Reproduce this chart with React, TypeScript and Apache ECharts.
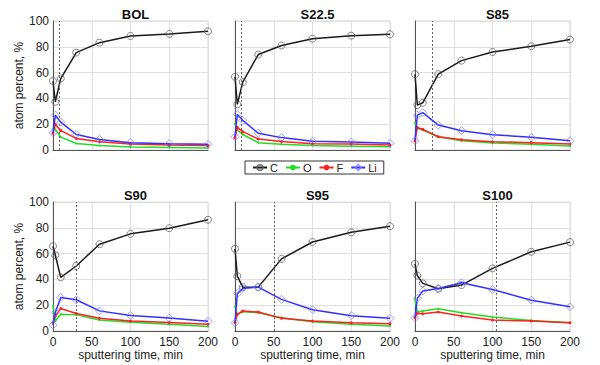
import React, { useEffect, useRef } from "react";
import * as echarts from "echarts";

const times = [0, 3, 10, 30, 60, 100, 150, 200];
const panelTitles = ["BOL", "S22.5", "S85", "S90", "S95", "S100"];
const dottedAt = [8, 8, 22.5, 30.5, 51, 105];

const cValues = [
  [53.4, 37.4, 55.4, 75.5, 83.2, 88.4, 90, 92],
  [56.8, 35.4, 52.7, 74, 81, 86.3, 88.6, 89.7],
  [58.8, 34.8, 36.6, 58.8, 69.3, 76, 80.4, 85.6],
  [65.7, 58.7, 41.6, 50.4, 67.3, 75.3, 79.7, 86.2],
  [63.7, 42.5, 34, 34, 55.9, 69, 76.5, 81.2],
  [52, 43, 36.9, 32.7, 35.6, 48.5, 61.4, 68.9],
];
const oValues = [
  [16.5, 16, 10, 5, 3.4, 2.3, 2, 1.5],
  [20.5, 15.5, 12, 5.7, 4.4, 3.4, 3, 2.6],
  [21, 16.8, 15.5, 10.3, 7.2, 5.4, 4.4, 3.1],
  [19.5, 7.8, 13, 12.5, 8.6, 6.8, 5.2, 3.4],
  [19.3, 12.9, 15, 14.2, 10.3, 7.2, 5.2, 3.9],
  [24.5, 15, 15.5, 17.3, 14.2, 10.8, 8.2, 6.4],
];
const fValues = [
  [13, 20, 15, 9, 6.4, 4.6, 3.9, 3.4],
  [9.5, 17.6, 14.2, 8.5, 6.5, 4.9, 4.6, 3.9],
  [7, 17.5, 16, 10.3, 8, 6.4, 5.7, 4.6],
  [6.5, 11.7, 17.4, 13.5, 9.9, 7.8, 6.5, 5.2],
  [6.4, 12.9, 15.5, 14.7, 9.8, 7.7, 6.4, 5.7],
  [10.3, 13.7, 13.4, 14.7, 11.6, 8.5, 7.7, 6.4],
];
const liValues = [
  [13.4, 27, 21.6, 12, 8.2, 5.7, 4.9, 4.4],
  [10.3, 27.6, 23, 13, 9.6, 6.7, 6.2, 5.2],
  [7.2, 27, 29, 19.3, 15, 11.9, 9.8, 7.2],
  [4.7, 14.3, 26, 24.2, 15.6, 12, 10, 7.5],
  [6.4, 29, 33, 34, 24.5, 16.5, 11.9, 9.8],
  [10.3, 25.3, 31, 33, 37.4, 32.2, 23.9, 18.8],
];
const xTicks = [0, 50, 100, 150, 200];
const yTicks = [0, 20, 40, 60, 80, 100];

const FONT = "Liberation Sans, Arial, sans-serif";

export default function App() {
  const ref = useRef<HTMLDivElement>(null);
  useEffect(() => {
    if (!ref.current) return;
    const chart = echarts.init(ref.current, null, { renderer: "svg" });
    const lefts = [53, 235, 415];
    const tops = [21, 202];
    const grids: any[] = [];
    const xAxes: any[] = [];
    const yAxes: any[] = [];
    const titles: any[] = [];
    const series: any[] = [];
    const graphics: any[] = [];
    for (let i = 0; i < 6; i++) {
      const col = i % 3;
      const row = Math.floor(i / 3);
      grids.push({ left: lefts[col], top: tops[row], width: 155, height: 129, containLabel: false });
      xAxes.push({
        type: "value",
        gridIndex: i,
        min: xTicks[0],
        max: xTicks[xTicks.length - 1],
        interval: 50,
        axisLine: { show: true, lineStyle: { color: "#555", width: 1 } },
        axisTick: { show: false },
        axisLabel: { show: row === 1, color: "#222", fontSize: 12, fontFamily: FONT, margin: 5 },
        splitLine: { show: true, lineStyle: { color: "#e0e0e0", width: 1 } },
        name: row === 1 ? "sputtering time, min" : "",
        nameLocation: "middle",
        nameGap: 17,
        nameTextStyle: { color: "#222", fontSize: 12, fontFamily: FONT },
      });
      yAxes.push({
        type: "value",
        gridIndex: i,
        min: yTicks[0],
        max: yTicks[yTicks.length - 1],
        interval: 20,
        axisLine: { show: true, lineStyle: { color: "#555", width: 1 } },
        axisTick: { show: false },
        axisLabel: { show: col === 0, color: "#222", fontSize: 12, fontFamily: FONT, margin: 4 },
        splitLine: { show: true, lineStyle: { color: "#e0e0e0", width: 1 } },
        name: col === 0 ? "atom percent, %" : "",
        nameLocation: "middle",
        nameGap: 23,
        nameTextStyle: { color: "#222", fontSize: 12, fontFamily: FONT },
      });
      titles.push({
        text: panelTitles[i],
        left: lefts[col] + 77.5,
        top: tops[row] - 18,
        textAlign: "center",
        textStyle: { fontSize: 13, fontWeight: "bold", color: "#111", fontFamily: FONT },
      });
      const mk = (vals: number[]) => times.map((t, k) => [t, vals[k]]);
      series.push({
        name: "C",
        type: "line",
        xAxisIndex: i,
        yAxisIndex: i,
        data: mk(cValues[i]),
        symbol: "circle",
        symbolSize: 7,
        showSymbol: true,
        lineStyle: { color: "#1a1a1a", width: 1.5 },
        itemStyle: { color: "rgba(255,255,255,0)", borderColor: "rgba(90,90,90,0.75)", borderWidth: 1 },
        z: 3,
        markLine: {
          silent: true,
          symbol: "none",
          label: { show: false },
          lineStyle: { type: [2, 2], color: "#666", width: 1 },
          data: [{ xAxis: dottedAt[i] }],
        },
      });
      series.push({
        name: "O",
        type: "line",
        xAxisIndex: i,
        yAxisIndex: i,
        data: mk(oValues[i]),
        symbol: "circle",
        symbolSize: 2,
        lineStyle: { color: "#22dd22", width: 1.5 },
        itemStyle: { color: "#22dd22" },
        z: 4,
      });
      series.push({
        name: "F",
        type: "line",
        xAxisIndex: i,
        yAxisIndex: i,
        data: mk(fValues[i]),
        symbol: "circle",
        symbolSize: 3,
        lineStyle: { color: "#ff2020", width: 1.5 },
        itemStyle: { color: "#ff2020" },
        z: 5,
      });
      series.push({
        name: "Li",
        type: "line",
        xAxisIndex: i,
        yAxisIndex: i,
        data: mk(liValues[i]),
        symbol: "diamond",
        symbolSize: 8,
        lineStyle: { color: "#3030ff", width: 1.5 },
        itemStyle: { color: "rgba(255,255,255,0)", borderColor: "rgba(120,120,255,0.7)", borderWidth: 1 },
        z: 6,
      });
      graphics.push({
        type: "rect",
        silent: true,
        shape: { x: lefts[col], y: tops[row], width: 155, height: 129 },
        style: { fill: "none", stroke: "#d8d8d8", lineWidth: 1 },
        z: -1,
      });
    }
    chart.setOption({
      animation: false,
      backgroundColor: "#fff",
      title: titles,
      grid: grids,
      xAxis: xAxes,
      yAxis: yAxes,
      series,
      graphic: graphics,
      legend: {
        data: ["C", "O", "F", "Li"],
        orient: "horizontal",
        left: 245,
        top: 161,
        itemWidth: 14,
        itemHeight: 7,
        itemGap: 7,
        padding: [1, 7, 1, 7],
        borderColor: "#333",
        borderWidth: 1,
        textStyle: { fontSize: 11, color: "#222", fontFamily: FONT, padding: [0, 0, 0, -2] },
      },
    });
    return () => chart.dispose();
  }, []);
  return (
    <div
      ref={ref}
      style={{ position: "absolute", left: 0, top: 0, width: 600, height: 365 }}
    />
  );
}
